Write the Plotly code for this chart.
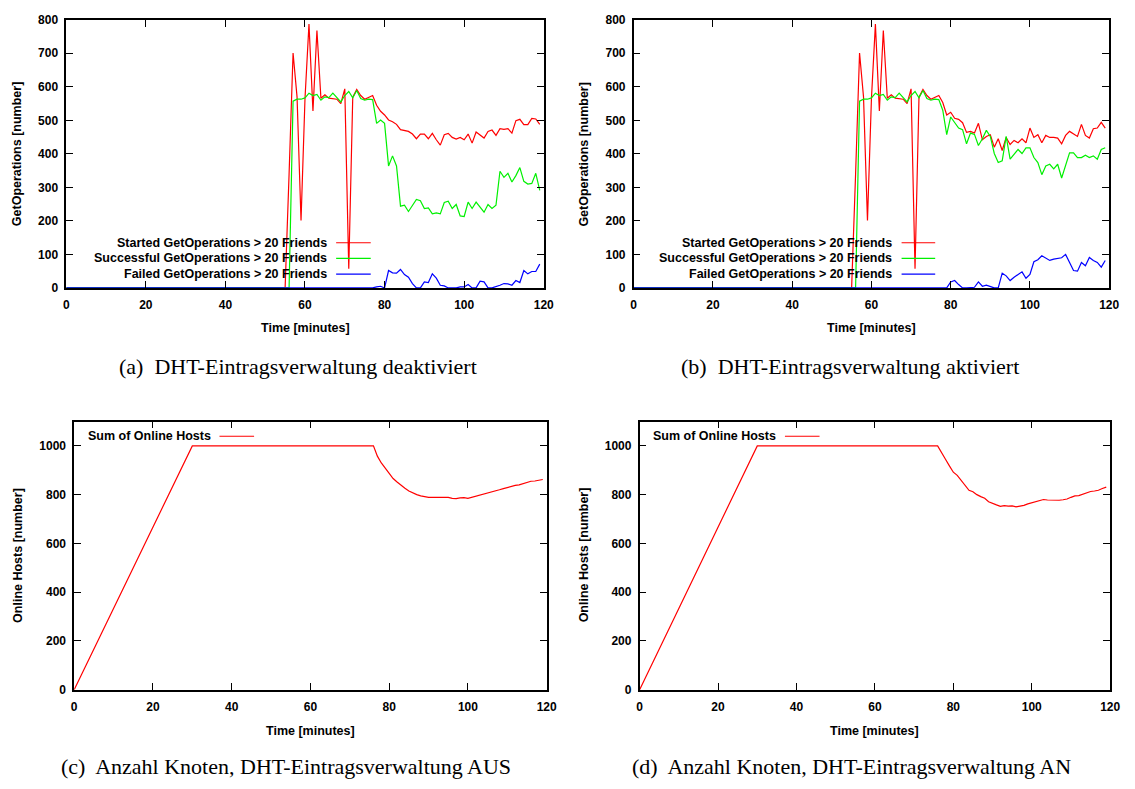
import plotly.graph_objects as go

W, H = 1135, 789

# ---------------- data ----------------
t_ops = [0] + list(range(55, 120))  # minutes (0 and 55..119)

started_a = [0, 0, 340, 701, 570, 201, 565, 787, 528, 768, 566, 576, 566, 565, 563, 550, 594, 57,
             569, 592, 574, 563, 569, 574, 545, 527, 516, 501, 496, 488, 472, 470, 467, 459, 445,
             459, 459, 445, 461, 442, 426, 457, 461, 449, 444, 449, 442, 459, 432, 465, 455, 447,
             467, 471, 455, 475, 473, 475, 462, 499, 503, 487, 487, 506, 504, 488]
success_a = [0, 0, 0, 557, 563, 563, 567, 581, 574, 577, 560, 570, 568, 581, 567, 555, 574, 586,
             567, 589, 565, 560, 563, 562, 491, 501, 491, 364, 394, 364, 244, 247, 228, 247, 264,
             260, 237, 239, 221, 224, 221, 255, 259, 237, 249, 215, 213, 256, 237, 256, 242, 226,
             249, 237, 247, 348, 330, 342, 316, 335, 359, 318, 310, 312, 342, 291]
failed_a = [0, 0, 0, 0, 0, 0, 0, 0, 0, 0, 0, 0, 0, 0, 0, 0, 0, 0,
            0, 0, 0, 0, 0, 0, 3, 5, 0, 52, 45, 44, 55, 40, 32, 13, 0,
            0, 18, 16, 42, 29, 8, 6, 0, 0, 0, 3, 3, 10, 0, 0, 20, 18,
            0, 0, 3, 8, 13, 12, 8, 22, 16, 52, 42, 49, 49, 71]

started_b = [0, 0, 340, 701, 570, 201, 565, 787, 528, 768, 566, 576, 566, 565, 563, 550, 594, 57,
             569, 592, 574, 563, 569, 574, 553, 516, 524, 506, 503, 493, 464, 467, 462, 491, 442,
             452, 457, 420, 445, 410, 449, 428, 440, 433, 445, 433, 477, 449, 457, 433, 455, 449,
             449, 447, 430, 455, 467, 459, 452, 488, 455, 447, 475, 477, 494, 477]
success_b = [0, 0, 0, 557, 563, 563, 567, 581, 574, 577, 560, 570, 568, 581, 567, 555, 574, 586,
             567, 589, 565, 560, 563, 562, 530, 457, 510, 495, 477, 472, 430, 462, 458, 425, 445,
             470, 452, 401, 374, 379, 452, 384, 399, 413, 401, 418, 418, 389, 374, 338, 364, 369,
             355, 369, 328, 364, 403, 403, 389, 389, 396, 389, 394, 384, 413, 418]
failed_b = [0, 0, 0, 0, 0, 0, 0, 0, 0, 0, 0, 0, 0, 0, 0, 0, 0, 0,
            0, 0, 0, 0, 0, 0, 0, 0, 18, 22, 10, 0, 0, 0, 2, 18, 5,
            8, 5, 0, 0, 44, 36, 22, 32, 40, 48, 29, 40, 78, 84, 96, 90, 82,
            86, 88, 90, 100, 75, 52, 50, 76, 66, 91, 82, 76, 62, 82]

t_hosts = [0, 30] + list(range(76, 120))
hosts_c = [0, 1000, 1000, 958, 930, 908, 885, 866, 852, 838, 826, 815, 806, 800, 795, 791, 789,
           789, 789, 787, 786, 789, 785, 784, 787, 788, 785, 789, 794, 798, 801, 805, 809, 813,
           820, 825, 830, 834, 838, 840, 846, 851, 855, 856, 859, 862]
hosts_d = [0, 1000, 1000, 970, 945, 918, 892, 879, 858, 836, 818, 812, 800, 792, 785, 771, 766,
           758, 752, 755, 753, 754, 750, 752, 756, 762, 766, 769, 775, 780, 778, 777, 777, 777,
           779, 782, 789, 795, 796, 802, 808, 813, 815, 818, 825, 831]

ops_names = ["Started GetOperations > 20 Friends",
             "Successful GetOperations > 20 Friends",
             "Failed GetOperations > 20 Friends"]
hosts_name = "Sum of Online Hosts"
captions = ["(a)  DHT-Eintragsverwaltung deaktiviert",
            "(b)  DHT-Eintragsverwaltung aktiviert",
            "(c)  Anzahl Knoten, DHT-Eintragsverwaltung AUS",
            "(d)  Anzahl Knoten, DHT-Eintragsverwaltung AN"]

RED, GREEN, BLUE = "#ff0000", "#00f000", "#0000ff"
LW = 1.2


def PX(x):
    return x / W


def PY(y):
    return 1 - y / H


fig = go.Figure()

for (xa, ya), (s, g, f) in [(("x", "y"), (started_a, success_a, failed_a)),
                            (("x2", "y2"), (started_b, success_b, failed_b))]:
    for vals, col, name in zip((s, g, f), (RED, GREEN, BLUE), ops_names):
        fig.add_trace(go.Scatter(x=t_ops, y=vals, mode="lines", name=name,
                                 line=dict(color=col, width=LW),
                                 xaxis=xa, yaxis=ya, showlegend=False))

fig.add_trace(go.Scatter(x=t_hosts, y=hosts_c, mode="lines", name=hosts_name,
                         line=dict(color=RED, width=LW), xaxis="x3", yaxis="y3", showlegend=False))
fig.add_trace(go.Scatter(x=t_hosts, y=hosts_d, mode="lines", name=hosts_name,
                         line=dict(color=RED, width=LW), xaxis="x4", yaxis="y4", showlegend=False))

tickfont = dict(family="Liberation Sans", size=12, color="black", weight="bold")
axis_common = dict(showline=True, linecolor="black", linewidth=1.5, mirror="ticks",
                   ticks="inside", ticklen=7, tickwidth=1, tickcolor="black",
                   showgrid=False, zeroline=False, tickfont=tickfont)

domains = {
    "a": ([PX(64), PX(547)], [PY(286), PY(13)]),
    "b": ([PX(638), PX(1119)], [PY(286), PY(13)]),
    "c": ([PX(72), PX(550)], [PY(695), PY(422)]),
    "d": ([PX(644), PX(1120)], [PY(695), PY(422)]),
}

layout = dict(width=W, height=H, autosize=False, margin=dict(l=0, r=0, t=0, b=0),
              paper_bgcolor="white", plot_bgcolor="white", showlegend=False)

for i, key in enumerate(["a", "b", "c", "d"]):
    sfx = "" if i == 0 else str(i + 1)
    dx, dy = domains[key]
    top = key in ("a", "b")
    layout["xaxis" + sfx] = dict(domain=dx, anchor="y" + sfx, range=[0, 120], dtick=20,
                                 tick0=0, ticklabelstandoff=5, **axis_common)
    layout["yaxis" + sfx] = dict(domain=dy, anchor="x" + sfx,
                                 range=[0, 800] if top else [0, 1100],
                                 dtick=100 if top else 200, tick0=0,
                                 ticklabelstandoff=4, **axis_common)

fig.update_layout(**layout)

ann = []
# captions
for text, (cx, cy) in zip(captions, [(298, 366), (857, 366), (286, 773), (858, 773)]):
    ann.append(dict(text=text, x=PX(cx), y=PY(cy), xref="paper", yref="paper",
                    showarrow=False, xanchor="center", yanchor="middle",
                    font=dict(family="Liberation Serif", size=22, color="black")))
# axis titles
bold = dict(family="Liberation Sans", size=12.5, color="black")
for cx, cy in [(305.5, 327), (878.5, 327), (311, 737), (882, 737)]:
    ann.append(dict(text="<b>Time [minutes]</b>", x=PX(cx), y=PY(cy), xref="paper",
                    yref="paper", showarrow=False, xanchor="center", yanchor="middle", font=bold))
for cx, cy, txt in [(15, 150, "GetOperations [number]"), (588, 150, "GetOperations [number]"),
                    (15, 558, "Online Hosts [number]"), (588, 558, "Online Hosts [number]")]:
    ann.append(dict(text="<b>" + txt + "</b>", x=PX(cx), y=PY(cy), xref="paper",
                    yref="paper", showarrow=False, textangle=-90, xanchor="center",
                    yanchor="middle", font=bold))

shapes = []
# legends for top plots
for tx, lx0, lx1 in [(330, 337, 372), (901, 909, 943)]:
    for name, col, ry in zip(ops_names, (RED, GREEN, BLUE), (240, 256, 272)):
        ann.append(dict(text="<b>" + name + "</b>", x=PX(tx), y=PY(ry), xref="paper",
                        yref="paper", showarrow=False, xanchor="right", yanchor="middle",
                        font=bold))
        shapes.append(dict(type="line", xref="paper", yref="paper", x0=PX(lx0), x1=PX(lx1),
                           y0=PY(ry), y1=PY(ry), line=dict(color=col, width=LW)))
# legends for bottom plots
for tx, lx0, lx1 in [(212, 219, 254), (784, 791, 826)]:
    ann.append(dict(text="<b>" + hosts_name + "</b>", x=PX(tx), y=PY(437), xref="paper",
                    yref="paper", showarrow=False, xanchor="right", yanchor="middle", font=bold))
    shapes.append(dict(type="line", xref="paper", yref="paper", x0=PX(lx0), x1=PX(lx1),
                       y0=PY(437), y1=PY(437), line=dict(color=RED, width=LW)))

fig.update_layout(annotations=ann, shapes=shapes)
fig.write_html("out.html")
